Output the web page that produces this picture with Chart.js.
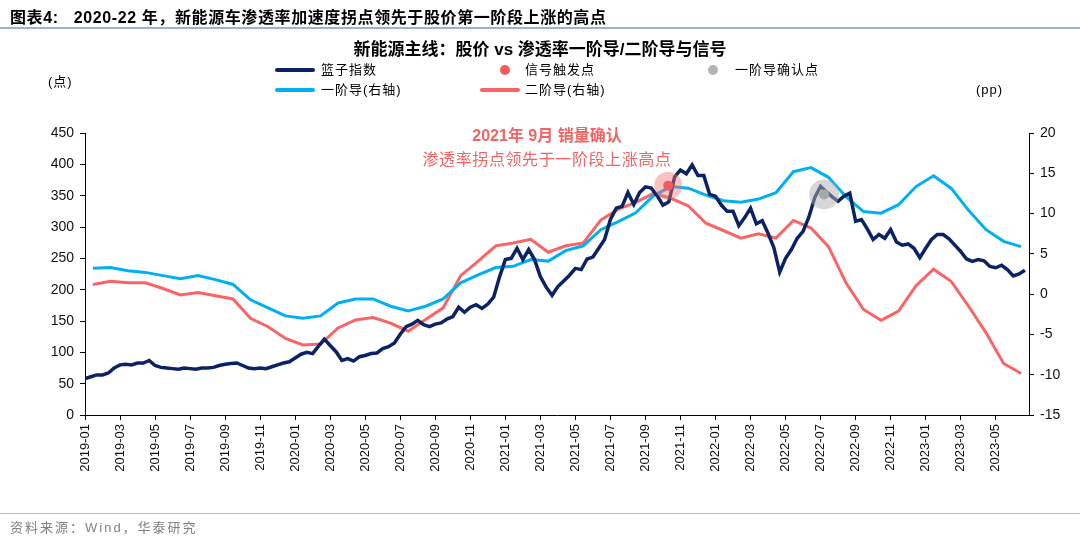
<!DOCTYPE html>
<html>
<head>
<meta charset="utf-8">
<script src="https://cdn.jsdelivr.net/npm/chart.js@4.4.0/dist/chart.umd.min.js"></script>
<style>
  body { margin: 0; background: #fff; width: 1080px; height: 541px; overflow: hidden; position: relative;
         font-family: "Liberation Sans", "Noto Sans CJK SC", sans-serif; color: #000; }
  .abs { position: absolute; white-space: nowrap; }
  .cjk { font-family: "Liberation Sans", "Noto Sans CJK SC", sans-serif; }
  #chart { position: absolute; left: 0; top: 0; }
  .legend { font-size: 13px; letter-spacing: 1px; line-height: 16px; }
  .swatch { position: absolute; height: 4px; width: 40px; border-radius: 2px; }
  .dot { position: absolute; width: 10px; height: 10px; border-radius: 50%; }
</style>
</head>
<body>
<canvas id="chart" width="1080" height="541"></canvas>

<!-- header -->
<div class="abs cjk" style="left:10px; top:4px; font-size:16px; font-weight:bold; letter-spacing:0.6px;">图表4:&nbsp;&nbsp; 2020-22 年，新能源车渗透率加速度拐点领先于股价第一阶段上涨的高点</div>
<div class="abs" style="left:0; top:27px; width:1080px; height:2px; background:#9BB1D9;"></div>
<div class="abs cjk" style="left:0; top:35px; width:1080px; text-align:center; font-size:17px; font-weight:bold;">新能源主线：股价 vs 渗透率一阶导/二阶导与信号</div>

<!-- legend -->
<div class="swatch" style="left:275px; top:68px; background:#0B2265;"></div>
<div class="abs legend" style="left:321px; top:62px;">篮子指数</div>
<div class="dot" style="left:500px; top:65px; background:#F25C5C;"></div>
<div class="abs legend" style="left:525px; top:62px;">信号触发点</div>
<div class="dot" style="left:708px; top:65px; background:#B4B4B4;"></div>
<div class="abs legend" style="left:735px; top:62px;">一阶导确认点</div>
<div class="swatch" style="left:275px; top:88px; background:#00B0F0;"></div>
<div class="abs legend" style="left:321px; top:82px;">一阶导(右轴)</div>
<div class="swatch" style="left:480px; top:88px; background:#FA6464;"></div>
<div class="abs legend" style="left:525px; top:82px;">二阶导(右轴)</div>

<div class="abs legend" style="left:48px; top:74px;">(点)</div>
<div class="abs legend" style="left:976px; top:82px;">(pp)</div>

<!-- annotation -->
<div class="abs cjk" style="left:0; top:122px; width:1094px; text-align:center; font-size:16px; font-weight:bold; color:#F26464;">2021年 9月 销量确认</div>
<div class="abs cjk" style="left:0; top:146px; width:1094px; text-align:center; font-size:16px; letter-spacing:0.6px; color:#F26464;">渗透率拐点领先于一阶段上涨高点</div>

<!-- footer -->
<div class="abs" style="left:0; top:513px; width:1080px; height:1px; background:#A9BCDC;"></div>
<div class="abs cjk" style="left:10px; top:517px; font-size:13px; letter-spacing:2px; color:#808080;">资料来源：Wind，华泰研究</div>

<script>
// x axis tick labels, one every two months (month index 0 = 2019-01)
const tickLabels = [
  "2019-01", "2019-03", "2019-05", "2019-07", "2019-09", "2019-11",
  "2020-01", "2020-03", "2020-05", "2020-07", "2020-09", "2020-11",
  "2021-01", "2021-03", "2021-05", "2021-07", "2021-09", "2021-11",
  "2022-01", "2022-03", "2022-05", "2022-07", "2022-09", "2022-11",
  "2023-01", "2023-03", "2023-05"
];

// 篮子指数, three readings per month starting 2019-01 (left axis)
const basketIndex = [
  58, 61, 64, 64, 67, 75, 80, 81, 80, 83, 83, 87,
  79, 76, 75, 74, 73, 75, 74, 73, 75, 75, 76, 79,
  81, 82, 83, 79, 75, 74, 75, 74, 77, 80, 83, 85,
  91, 97, 100, 98, 110, 121, 111, 101, 87, 90, 86, 93,
  95, 98, 99, 106, 109, 115, 129, 141, 145, 151, 144, 141,
  145, 147, 153, 157, 172, 164, 172, 176, 170, 177, 188, 220,
  248, 250, 266, 248, 264, 248, 221, 204, 191, 205, 214, 223,
  234, 232, 249, 252, 266, 280, 312, 330, 333, 355, 336, 355,
  364, 362, 350, 335, 340, 380, 391, 385, 399, 382, 382, 352,
  349, 335, 325, 325, 302, 315, 330, 305, 310, 290, 267, 228,
  250, 264, 282, 293, 316, 347, 365, 356, 348, 341, 349, 354,
  309, 312, 297, 280, 288, 282, 296, 276, 271, 273, 266, 251,
  266, 280, 288, 288, 281, 271, 261, 249, 245, 248, 246, 237,
  235, 239, 232, 222, 225, 231
];

// monthly series, 2019-01 .. 2023-06 (right axis, pp)
const firstDeriv = [
  3.2, 3.3, 2.9, 2.7, 2.3, 1.9, 2.3, 1.8, 1.2, -0.7, -1.7, -2.7,
  -3.0, -2.7, -1.1, -0.6, -0.6, -1.5, -2.1, -1.5, -0.6, 1.4, 2.4, 3.3,
  3.45, 4.3, 4.1, 5.4, 6.0, 8.0, 9.0, 10.1, 12.2, 13.35, 13.15, 12.3,
  11.6, 11.4, 11.8, 12.6, 15.2, 15.7, 14.5, 12.1, 10.25, 10.05, 11.1, 13.35,
  14.7, 13.15, 10.4, 8.0, 6.55, 5.9
];
const secondDeriv = [
  1.2, 1.6, 1.4, 1.4, 0.7, -0.1, 0.2, -0.2, -0.6, -3.0, -4.05, -5.5,
  -6.3, -6.2, -4.2, -3.2, -2.9, -3.6, -4.6, -3.15, -1.7, 2.3, 4.1, 6.0,
  6.35, 6.8, 5.2, 6.0, 6.35, 9.2, 10.55, 11.4, 12.5, 11.9, 10.95, 8.8,
  7.9, 6.95, 7.5, 6.95, 9.15, 8.2, 5.9, 1.4, -1.9, -3.25, -2.1, 1.05,
  3.1, 1.6, -1.5, -4.8, -8.6, -9.85
];

// marker points: month index and basket level
const signalMonth = [33.3];
const signalLevel = [366];
const confirmMonth = [42.2];
const confirmLevel = [352];

const navy = "#0B2265";
const skyBlue = "#00B0F0";
const salmon = "#FA6464";
const tickFont = { family: "Liberation Sans", size: 13 };

const basketPoints = basketIndex.map((v, i) => ({ x: i / 3, y: v }));
const firstPoints = firstDeriv.map((v, i) => ({ x: i + 0.45, y: v }));
const secondPoints = secondDeriv.map((v, i) => ({ x: i + 0.45, y: v }));
const signalPoints = signalMonth.map((m, i) => ({ x: m, y: signalLevel[i] }));
const confirmPoints = confirmMonth.map((m, i) => ({ x: m, y: confirmLevel[i] }));

function markerSet(points, radius, color) {
  return {
    data: points, yAxisID: "y", showLine: false,
    pointRadius: radius, pointBorderWidth: 0,
    pointBackgroundColor: color, pointHoverRadius: radius
  };
}

function lineSet(points, axis, color, width) {
  return {
    data: points, yAxisID: axis, borderColor: color, borderWidth: width,
    pointRadius: 0, tension: 0, fill: false
  };
}

const ctx = document.getElementById("chart").getContext("2d");
new Chart(ctx, {
  type: "line",
  data: {
    datasets: [
      markerSet(signalPoints, 5, "#F25C5C"),
      markerSet(confirmPoints, 5, "#A8A8A8"),
      markerSet(signalPoints, 14, "rgba(245,120,120,0.45)"),
      markerSet(confirmPoints, 15, "rgba(175,175,175,0.5)"),
      lineSet(basketPoints, "y", navy, 3.5),
      lineSet(firstPoints, "y1", skyBlue, 3),
      lineSet(secondPoints, "y1", salmon, 3)
    ]
  },
  options: {
    responsive: false,
    animation: false,
    layout: { padding: { top: 133, left: 0, right: 0, bottom: 0 } },
    plugins: { legend: { display: false }, tooltip: { enabled: false } },
    scales: {
      x: {
        type: "linear", min: 0, max: 53.9,
        ticks: {
          stepSize: 2, autoSkip: false, includeBounds: false,
          minRotation: 90, maxRotation: 90, padding: 4,
          color: "#111", font: tickFont,
          callback: (v) => tickLabels[Math.round(v / 2)] || ""
        },
        grid: { drawOnChartArea: false, tickLength: 5, color: "#000" },
        border: { color: "#000", width: 1 },
        afterFit: (s) => { s.height = 126; }
      },
      y: {
        position: "left", min: 0, max: 450,
        ticks: { stepSize: 50, padding: 6, color: "#111", font: { family: "Liberation Sans", size: 14 } },
        grid: { drawOnChartArea: false, tickLength: 5, color: "#000" },
        border: { color: "#000", width: 1 },
        afterFit: (s) => { s.width = 85; }
      },
      y1: {
        position: "right", min: -15, max: 20,
        ticks: { stepSize: 5, padding: 6, color: "#111", font: { family: "Liberation Sans", size: 14 } },
        grid: { drawOnChartArea: false, tickLength: 5, color: "#000" },
        border: { color: "#000", width: 1 },
        afterFit: (s) => { s.width = 51; }
      }
    }
  }
});
</script>
</body>
</html>
